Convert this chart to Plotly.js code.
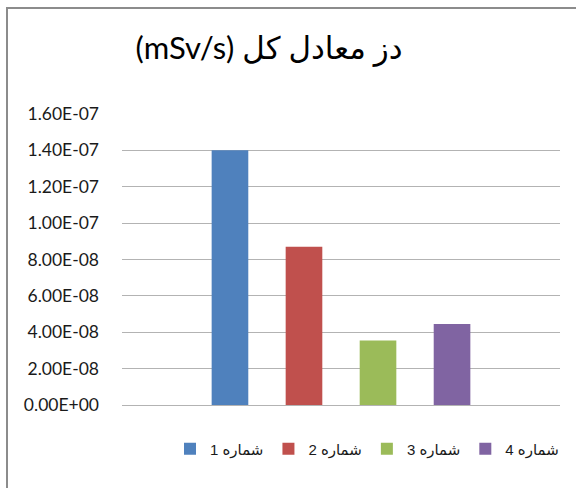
<!DOCTYPE html>
<html>
<head>
<meta charset="utf-8">
<script src="https://cdn.plot.ly/plotly-3.0.1.min.js"></script>
<style>
  html, body { margin: 0; padding: 0; background: #fff; }
  #wrap { position: relative; width: 576px; height: 488px; }
  #chart { width: 576px; height: 488px; }
  #frame { position: absolute; left: 6px; top: 7px; right: 0; bottom: 0;
           border-top: 2px solid #8c8c8c; border-left: 2px solid #8c8c8c; pointer-events: none; }
</style>
</head>
<body>
<div id="wrap">
  <div id="chart"></div>
  <div id="frame"></div>
</div>
<script>
const seriesNames = ["شماره 1", "شماره 2", "شماره 3", "شماره 4"];
const seriesValues = [1.40e-7, 8.70e-8, 3.55e-8, 4.45e-8];
const seriesColors = ["#4F81BD", "#C0504D", "#9BBB59", "#8064A2"];
const category = [""];
const yTicks = [0, 2e-8, 4e-8, 6e-8, 8e-8, 1e-7, 1.2e-7, 1.4e-7, 1.6e-7];
const yTickLabels = ["0.00E+00", "2.00E-08", "4.00E-08", "6.00E-08", "8.00E-08",
                     "1.00E-07", "1.20E-07", "1.40E-07", "1.60E-07"];
const titleText = "دز معادل کل (mSv/s)";

const RLE = "\u202B", PDF = "\u202C";

const traces = seriesNames.map((name, i) => ({
  type: "bar",
  name: RLE + name + PDF,
  x: category,
  y: [seriesValues[i]],
  marker: { color: seriesColors[i], line: { width: 0 } },
  hoverinfo: "y+name"
}));

const layout = {
  width: 576,
  height: 488,
  paper_bgcolor: "#ffffff",
  plot_bgcolor: "#ffffff",
  margin: { l: 122, r: 16, t: 114, b: 83, pad: 0 },
  barmode: "group",
  bargap: 0.324,
  bargroupgap: 0.505,
  title: {
    text: RLE + titleText + PDF,
    font: { family: "Lato, 'DejaVu Sans', sans-serif", size: 31, color: "#000000" },
    xref: "container", yref: "container",
    x: 0.467, xanchor: "center",
    y: 1 - 48 / 488, yanchor: "middle"
  },
  xaxis: {
    type: "category",
    range: [-0.5, 0.5],
    showticklabels: false,
    ticks: "",
    showgrid: false,
    zeroline: false,
    showline: false,
    fixedrange: true
  },
  yaxis: {
    range: [0, 1.6e-7],
    tickmode: "array",
    tickvals: yTicks,
    ticktext: yTickLabels,
    ticks: "",
    ticklabelstandoff: 22,
    showgrid: true,
    gridcolor: "#b3b3b3",
    gridwidth: 1,
    zeroline: true,
    zerolinecolor: "#b3b3b3",
    zerolinewidth: 1,
    showline: false,
    tickfont: { family: "Lato, 'DejaVu Sans', sans-serif", size: 17.5, color: "#1a1a1a" },
    fixedrange: true
  },
  showlegend: true,
  legend: {
    orientation: "h",
    x: 170 / 576, xanchor: "left",
    xref: "container",
    yref: "container",
    y: 1 - 449 / 488, yanchor: "middle",
    font: { family: "'Liberation Sans', 'DejaVu Sans', sans-serif", size: 15, color: "#1a1a1a" },
    itemwidth: 30,
    traceorder: "normal"
  }
};

Plotly.newPlot("chart", traces, layout, { displayModeBar: false, staticPlot: true });
</script>
</body>
</html>
